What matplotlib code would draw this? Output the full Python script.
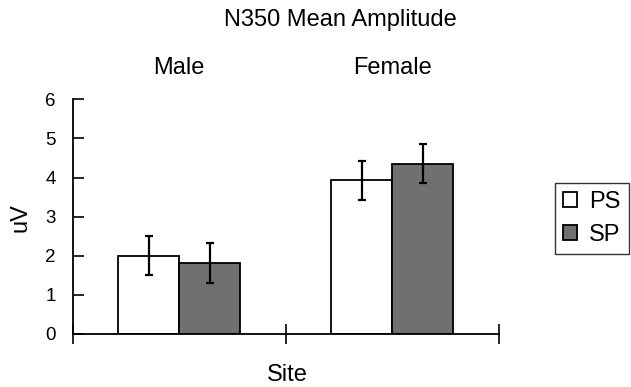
import matplotlib
matplotlib.use("Agg")
import matplotlib.pyplot as plt
import numpy as np

# values
groups = ["Male", "Female"]
conditions = ["PS", "SP"]
ps_means = [2.00, 3.93]
ps_errs = [0.50, 0.50]
sp_means = [1.81, 4.35]
sp_errs = [0.51, 0.50]
y_ticks = [0, 1, 2, 3, 4, 5, 6]

plt.rcParams["font.family"] = ["Liberation Sans", "DejaVu Sans"]
plt.rcParams["font.size"] = 12

fig = plt.figure(figsize=(6.31, 3.87), dpi=100)
ax = fig.add_axes([72.5 / 631, 1 - 334 / 387, (499 - 72.5) / 631, (334 - 99.3) / 387])

x = np.arange(len(groups))
width = 0.286
err_style = dict(ecolor="black", elinewidth=1.6, capsize=3, capthick=1.6)

ax.bar(x - width / 2, ps_means, width, yerr=ps_errs, color="white",
       edgecolor="black", linewidth=1.3, label=conditions[0], error_kw=err_style)
ax.bar(x + width / 2, sp_means, width, yerr=sp_errs, color="#707070",
       edgecolor="black", linewidth=1.3, label=conditions[1], error_kw=err_style)

ax.set_xlim(-0.5, len(groups) - 0.5)
ax.set_ylim(0, 6)
ax.set_yticks(y_ticks)
ax.set_xticks(np.arange(len(groups) + 1) - 0.5)
ax.set_xticklabels([])
ax.tick_params(axis="y", direction="in", length=8, width=1.2, pad=12, labelsize=13.5)
ax.tick_params(axis="x", direction="inout", length=14, width=1.2)

for side in ["top", "right"]:
    ax.spines[side].set_visible(False)
for side in ["left", "bottom"]:
    ax.spines[side].set_linewidth(1.3)

for xi, name in zip(x, groups):
    ax.text(xi, 6.8, name, ha="center", va="center", fontsize=17, clip_on=False)

fig.text(340 / 631, 1 - 20 / 387, "N350 Mean Amplitude", ha="center", va="center", fontsize=17)
fig.text(287 / 631, 1 - 375 / 387, "Site", ha="center", va="center", fontsize=17)
fig.text(20 / 631, 1 - 218 / 387, "uV", ha="center", va="center", rotation=90, fontsize=17)

leg = fig.legend(loc="upper left", bbox_to_anchor=(555 / 631, 1 - 183 / 387),
                 frameon=True, fancybox=False, edgecolor="black", fontsize=17,
                 handlelength=0.6, handleheight=0.6, handletextpad=0.5,
                 borderpad=0.35, labelspacing=0.45, borderaxespad=0)
leg.get_frame().set_linewidth(1.0)

fig.savefig("out.png", dpi=100)
